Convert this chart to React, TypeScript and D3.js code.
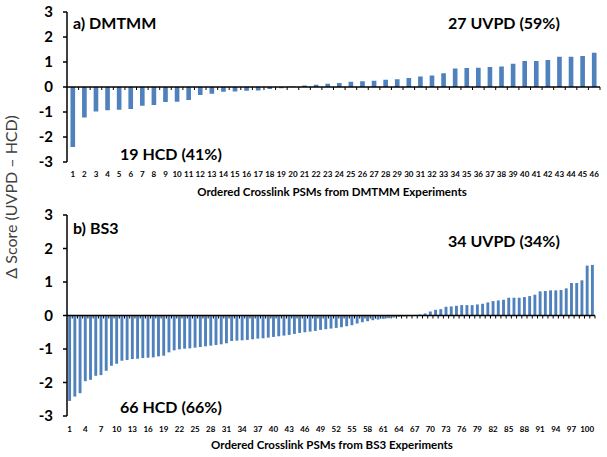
import React from "react";
import * as d3 from "d3";

const topValues = [
  -2.4, -1.22, -0.98, -0.93, -0.91, -0.88, -0.75, -0.72, -0.6, -0.59,
  -0.52, -0.32, -0.27, -0.19, -0.18, -0.15, -0.14, -0.08, -0.05, 0.02,
  0.06, 0.09, 0.13, 0.16, 0.21, 0.23, 0.25, 0.29, 0.31, 0.36,
  0.42, 0.46, 0.55, 0.74, 0.76, 0.77, 0.8, 0.82, 0.93, 1.04,
  1.04, 1.08, 1.21, 1.21, 1.24, 1.37,
];

const bottomValues = [
  -2.55, -2.42, -2.32, -1.96, -1.92, -1.8, -1.78, -1.65, -1.5, -1.44,
  -1.35, -1.33, -1.3, -1.29, -1.27, -1.26, -1.25, -1.22, -1.2, -1.1,
  -1.04, -1.01, -0.99, -0.98, -0.96, -0.94, -0.92, -0.9, -0.88, -0.86,
  -0.83, -0.76, -0.75, -0.74, -0.73, -0.71, -0.69, -0.68, -0.66, -0.64,
  -0.62, -0.6, -0.58, -0.55, -0.52, -0.5, -0.48, -0.46, -0.43, -0.41,
  -0.39, -0.37, -0.35, -0.32, -0.29, -0.24, -0.2, -0.17, -0.14, -0.12,
  -0.1, -0.08, -0.06, -0.04, -0.03, -0.02, 0, 0.03, 0.06, 0.12,
  0.17, 0.19, 0.26, 0.27, 0.29, 0.31, 0.31, 0.31, 0.33, 0.35,
  0.39, 0.43, 0.45, 0.47, 0.53, 0.53, 0.53, 0.55, 0.58, 0.62,
  0.72, 0.73, 0.75, 0.75, 0.76, 0.81, 0.97, 0.97, 1.05, 1.49,
  1.51,
];

const yTicks = [-3, -2, -1, 0, 1, 2, 3];

const BAR = "#4F81BD";
const FONT = "Lato, 'Open Sans', sans-serif";

type PanelProps = {
  values: number[];
  xRange: [number, number];
  yRange: [number, number];
  labelEvery: number;
  title: string;
  uvpd: string;
  hcd: string;
  titleY: number;
  uvpdY: number;
  hcdY: number;
  tickLabelY: number;
  axisTitle: string;
  axisTitleY: number;
  padInner: number;
};

function Panel(p: PanelProps) {
  const cats = p.values.map((_, i) => String(i + 1));
  const x = d3
    .scaleBand<string>()
    .domain(cats)
    .range(p.xRange)
    .paddingInner(p.padInner)
    .paddingOuter(p.padInner / 2);
  const y = d3.scaleLinear().domain([-3, 3]).range(p.yRange);
  const step = x.step();
  const x0 = p.xRange[0];
  const y0 = y(0);
  return (
    <g>
      {p.values.map((v, i) => (
        <rect
          key={i}
          x={x(cats[i])}
          width={x.bandwidth()}
          y={Math.min(y(v), y0)}
          height={Math.abs(y(v) - y0)}
          fill={BAR}
        />
      ))}
      <line x1={x0} x2={p.xRange[1]} y1={y0} y2={y0} stroke="#000" strokeWidth={1.5} />
      {cats.map((c, i) => (
        <line
          key={"t" + i}
          x1={x0 + (i + 1) * step}
          x2={x0 + (i + 1) * step}
          y1={y0}
          y2={y0 + 3}
          stroke="#000"
          strokeWidth={1}
        />
      ))}
      <line x1={x0} x2={x0} y1={y(3)} y2={y(-3)} stroke="#000" strokeWidth={1.5} />
      {yTicks.map((t) => (
        <g key={"y" + t}>
          <line x1={x0 - 4} x2={x0} y1={y(t)} y2={y(t)} stroke="#000" strokeWidth={1.5} />
          <text
            x={x0 - 14}
            y={y(t)}
            dy="0.35em"
            textAnchor="end"
            fontSize={15}
            fontWeight="bold"
            fontFamily={FONT}
            fill="#000"
          >
            {t}
          </text>
        </g>
      ))}
      {cats.map((c, i) =>
        i % p.labelEvery === 0 ? (
          <text
            key={"l" + i}
            x={(x(c) as number) + x.bandwidth() / 2}
            y={p.tickLabelY}
            textAnchor="middle"
            fontSize={8}
            fontWeight="bold"
            fontFamily={FONT}
            fill="#000"
          >
            {c}
          </text>
        ) : null
      )}
      <text x={73} y={p.titleY} fontSize={16} fontWeight="bold" fontFamily={FONT} fill="#000">
        {p.title}
      </text>
      <text x={448} y={p.uvpdY} fontSize={16} fontWeight="bold" fontFamily={FONT} fill="#000">
        {p.uvpd}
      </text>
      <text x={120} y={p.hcdY} fontSize={16} fontWeight="bold" fontFamily={FONT} fill="#000">
        {p.hcd}
      </text>
      <text
        x={332}
        y={p.axisTitleY}
        textAnchor="middle"
        fontSize={11.5}
        fontWeight="bold"
        fontFamily={FONT}
        fill="#000"
      >
        {p.axisTitle}
      </text>
    </g>
  );
}

export default function App() {
  return (
    <svg
      width={607}
      height={457}
      style={{ position: "absolute", left: 0, top: 0, background: "#fff" }}
    >
      <rect width={607} height={457} fill="#fff" />
      <Panel
        values={topValues}
        xRange={[67, 600]}
        yRange={[162, 12]}
        labelEvery={1}
        title="a) DMTMM"
        uvpd="27 UVPD (59%)"
        hcd="19 HCD (41%)"
        titleY={29}
        uvpdY={29}
        hcdY={160}
        tickLabelY={177}
        axisTitle="Ordered Crosslink PSMs from DMTMM Experiments"
        axisTitleY={196}
        padInner={0.6}
      />
      <Panel
        values={bottomValues}
        xRange={[67, 595]}
        yRange={[416, 215]}
        labelEvery={3}
        title="b) BS3"
        uvpd="34 UVPD (34%)"
        hcd="66 HCD (66%)"
        titleY={234}
        uvpdY={247}
        hcdY={413}
        tickLabelY={432}
        axisTitle="Ordered Crosslink PSMs from BS3 Experiments"
        axisTitleY={449}
        padInner={0.45}
      />
      <text
        transform="translate(17,197) rotate(-90)"
        textAnchor="middle"
        fontSize={16}
        fontFamily={FONT}
        fill="#404040"
      >
        Δ Score (UVPD – HCD)
      </text>
    </svg>
  );
}
